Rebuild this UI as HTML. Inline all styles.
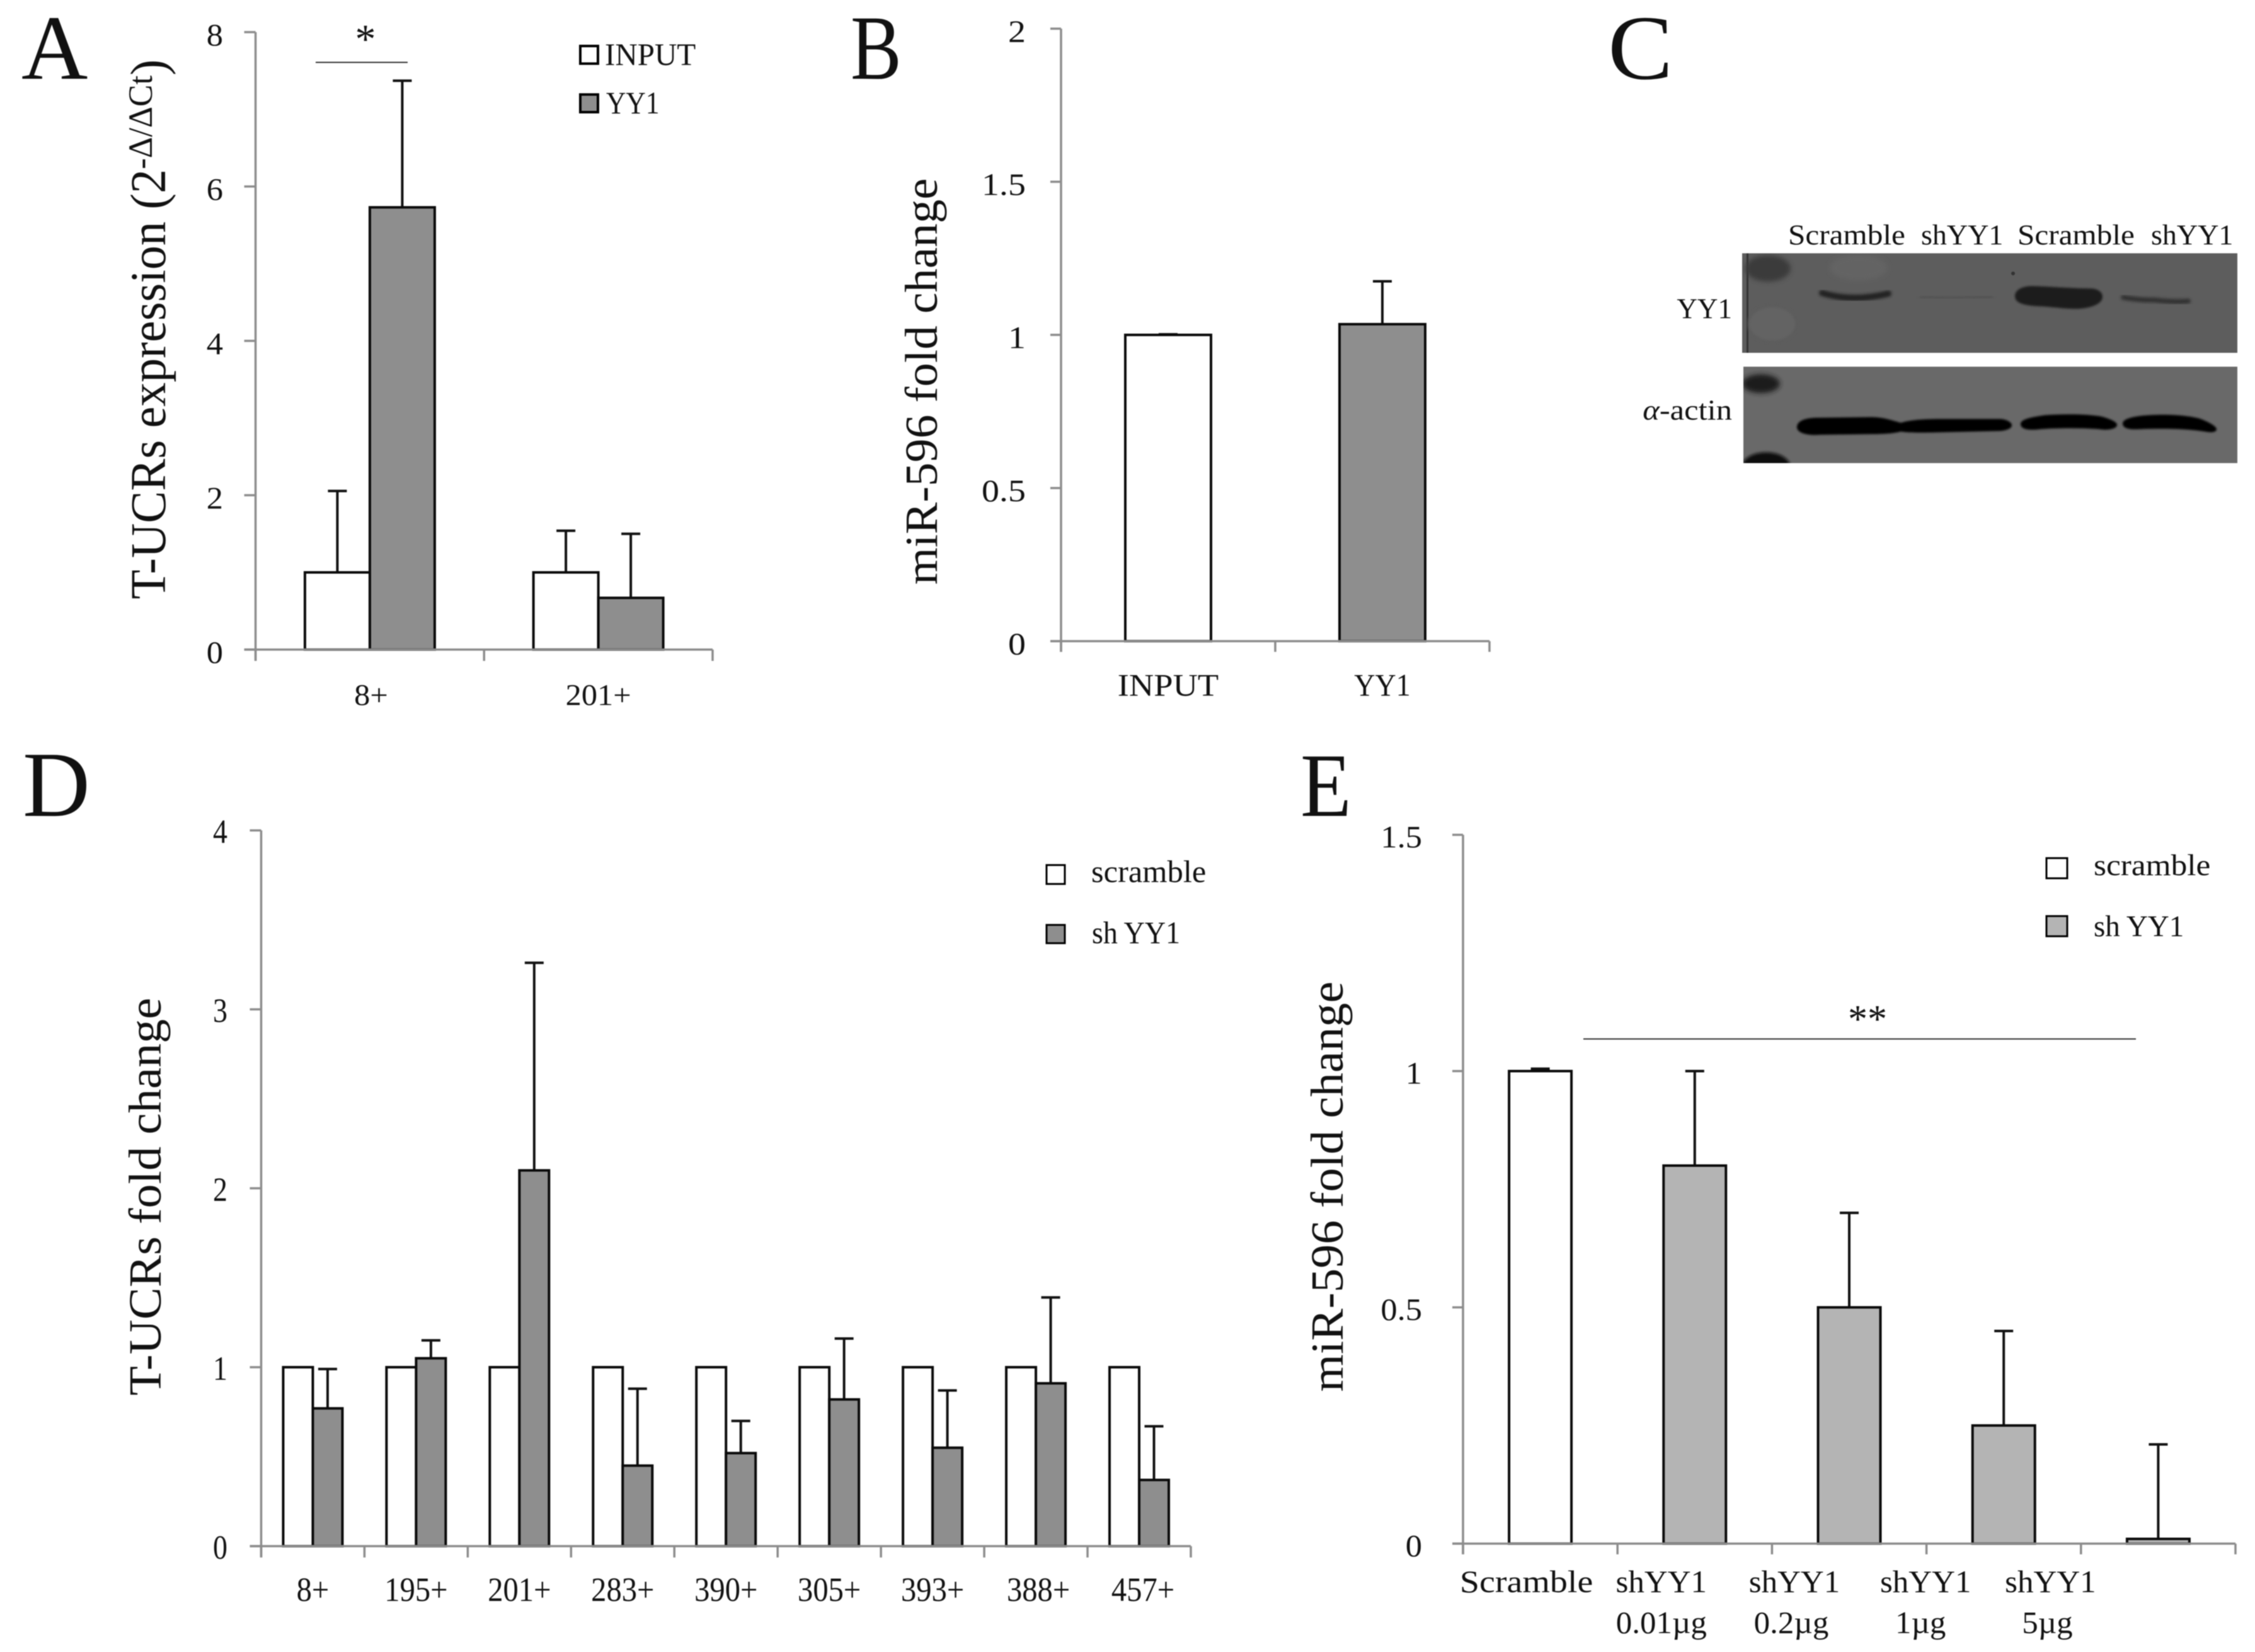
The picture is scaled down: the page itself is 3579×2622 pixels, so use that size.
<!DOCTYPE html>
<html lang="en">
<head>
<meta charset="utf-8">
<title>YY1 T-UCR and miR-596 figure</title>
<style>
html,body{margin:0;padding:0;background:#fff;width:3579px;height:2622px;overflow:hidden}
svg{display:block;filter:blur(.7px)}
text{font-family:"Liberation Serif","DejaVu Serif",serif;fill:#111}
</style>
</head>
<body>
<svg id="fig" xmlns="http://www.w3.org/2000/svg" width="3579" height="2622" viewBox="0 0 3579 2622">
<defs>
<filter id="b1" x="-20%" y="-60%" width="140%" height="220%"><feGaussianBlur stdDeviation="1.5"/></filter>
<filter id="b2" x="-20%" y="-60%" width="140%" height="220%"><feGaussianBlur stdDeviation="2.5"/></filter>
<filter id="b4" x="-30%" y="-60%" width="160%" height="220%"><feGaussianBlur stdDeviation="4"/></filter>
<clipPath id="c1"><rect x="2765" y="402" width="786" height="158"/></clipPath>
<clipPath id="c2"><rect x="2767" y="582" width="784" height="153"/></clipPath>
</defs>
<rect width="3579" height="2622" fill="#fff"/>

<text x="34" y="125" font-size="146">A</text>
<text transform="translate(1350,125) scale(.83,1)" font-size="146">B</text>
<text transform="translate(2552,125) scale(1.06,1)" font-size="146">C</text>
<text x="36" y="1295" font-size="148">D</text>
<text transform="translate(2064,1295) scale(.92,1)" font-size="144">E</text>

<text transform="translate(262,951) rotate(-90) scale(.97,1)" font-size="79">T-UCRs expression (2<tspan font-size="54" dy="-21">-Δ/ΔCt</tspan><tspan dy="21">)</tspan></text>
<text transform="translate(1487,928) rotate(-90) scale(1.04,1)" font-size="73">miR-596 fold change</text>
<text transform="translate(255,2215) rotate(-90) scale(1.05,1)" font-size="73">T-UCRs fold change</text>
<text transform="translate(2131,2209) rotate(-90) scale(1.05,1)" font-size="73">miR-596 fold change</text>

<g>
<rect x="921" y="73" width="28" height="28" fill="#fff" stroke="#000" stroke-width="4"/>
<text transform="translate(960,103) scale(.98,1)" font-size="50">INPUT</text>
<rect x="921" y="150" width="28" height="28" fill="#8e8e8e" stroke="#000" stroke-width="4"/>
<text transform="translate(962,180) scale(.87,1)" font-size="50">YY1</text>
</g>
<g>
<rect x="1661" y="1373" width="29" height="30" fill="#fff" stroke="#000" stroke-width="3"/>
<text transform="translate(1732,1400) scale(1.01,1)" font-size="50">scramble</text>
<rect x="1661" y="1468" width="29" height="29" fill="#8e8e8e" stroke="#000" stroke-width="3"/>
<text transform="translate(1733,1497) scale(.92,1)" font-size="50">sh YY1</text>
</g>
<g>
<rect x="3248" y="1362" width="33" height="32" fill="#fff" stroke="#000" stroke-width="3"/>
<text transform="translate(3323,1389) scale(1.07,1)" font-size="48">scramble</text>
<rect x="3248" y="1454" width="33" height="32" fill="#b4b4b4" stroke="#000" stroke-width="3"/>
<text transform="translate(3323,1486) scale(.98,1)" font-size="48">sh YY1</text>
</g>

<line x1="501" y1="99" x2="647" y2="99" stroke="#333" stroke-width="2"/>
<text x="580" y="84" font-size="66" text-anchor="middle">*</text>
<line x1="2513" y1="1649" x2="3390" y2="1649" stroke="#333" stroke-width="2"/>
<text x="2964" y="1638" font-size="62" text-anchor="middle">**</text>

<g>
<text transform="translate(2838,388) scale(1.07,1)" font-size="46">Scramble</text>
<text x="3049" y="388" font-size="46">shYY1</text>
<text transform="translate(3202,388) scale(1.07,1)" font-size="46">Scramble</text>
<text x="3414" y="388" font-size="46">shYY1</text>
<text transform="translate(2749,505) scale(.98,1)" font-size="46" text-anchor="end">YY1</text>
<text transform="translate(2749,666) scale(1.1,1)" font-size="46" text-anchor="end"><tspan font-style="italic">α</tspan>-actin</text>

<g clip-path="url(#c1)">
<rect x="2765" y="402" width="786" height="158" fill="#5d5d5d"/>
<rect x="2772" y="402" width="3" height="158" fill="#333"/>
<ellipse cx="2806" cy="426" rx="36" ry="21" fill="#3a3a3a" filter="url(#b4)"/>
<ellipse cx="2813" cy="514" rx="38" ry="28" fill="#646464" stroke="#585858" stroke-width="2" filter="url(#b2)"/>
<ellipse cx="2950" cy="425" rx="46" ry="20" fill="#636363" filter="url(#b4)"/>
<path d="M2892 465 Q2940 480 2997 466" fill="none" stroke="#222" stroke-width="10" stroke-linecap="round" filter="url(#b2)"/>
<path d="M3050 472 Q3105 474 3160 471" fill="none" stroke="#555" stroke-width="8" stroke-linecap="round" filter="url(#b2)"/>
<circle cx="3195" cy="434" r="3" fill="#333"/>
<path d="M3198 470 C3198 460 3210 454 3225 454 C3260 455 3290 458 3320 458 C3332 459 3337 465 3337 471 C3337 480 3325 488 3300 490 C3280 491 3260 487 3235 486 C3215 485 3198 482 3198 470Z" fill="#1d1d1d" filter="url(#b1)"/>
<path d="M3370 472 Q3400 477 3418 476 Q3450 480 3473 478" fill="none" stroke="#333" stroke-width="8" stroke-linecap="round" filter="url(#b2)"/>
</g>
<g clip-path="url(#c2)">
<rect x="2767" y="582" width="784" height="153" fill="#696969"/>
<ellipse cx="2795" cy="609" rx="30" ry="15" fill="#1c1c1c" filter="url(#b4)"/>
<ellipse cx="2803" cy="740" rx="38" ry="22" fill="#0a0a0a" filter="url(#b2)"/>
<path d="M2852 678 C2852 668 2865 663 2885 663 L2970 662 C2990 662 3005 668 3017 671 C3030 667 3050 665 3080 665 L3175 665 C3187 666 3193 671 3193 675 C3193 680 3185 683 3175 684 L3085 686 C3050 687 3030 687 3017 685 C3005 688 2990 689 2970 689 L2890 690 C2865 692 2852 686 2852 678Z" fill="#000" filter="url(#b1)"/>
<path d="M3207 673 C3207 665 3225 662 3245 659 C3275 657 3310 657 3335 661 C3350 665 3360 670 3360 674 C3360 680 3350 682 3340 682 C3310 679 3270 679 3240 681 C3225 683 3207 683 3207 673Z" fill="#000" filter="url(#b1)"/>
<path d="M3369 672 C3369 664 3390 660 3410 659 C3440 657 3470 659 3490 664 C3505 669 3518 677 3518 681 C3518 686 3510 687 3500 685 C3470 680 3430 680 3400 681 C3385 682 3369 682 3369 672Z" fill="#000" filter="url(#b1)"/>
</g>
</g>
<g id="charts"></g>
</svg>

<script>
// Panel A
const aCategories = ['8+', '201+'];
const aInput = [1, 1];
const aInputErr = [1.055, 0.54];
const aYY1 = [5.73, 0.67];
const aYY1Err = [1.64, 0.83];
const aTicks = ['0', '2', '4', '6', '8'];
// Panel B
const bCategories = ['INPUT', 'YY1'];
const bValues = [1, 1.035];
const bErr = [0.002, 0.14];
const bTicks = ['0', '0.5', '1', '1.5', '2'];
// Panel D
const dCategories = ['8+', '195+', '201+', '283+', '390+', '305+', '393+', '388+', '457+'];
const dScramble = [1, 1, 1, 1, 1, 1, 1, 1, 1];
const dShYY1 = [0.77, 1.05, 2.1, 0.45, 0.52, 0.82, 0.55, 0.91, 0.37];
const dShYY1Err = [0.22, 0.1, 1.16, 0.43, 0.18, 0.34, 0.32, 0.48, 0.3];
const dTicks = ['0', '1', '2', '3', '4'];
// Panel E
const eCategories = ['Scramble', 'shYY1|0.01µg', 'shYY1|0.2µg', 'shYY1|1µg', 'shYY1|5µg'];
const eValues = [1, 0.8, 0.5, 0.25, 0.01];
const eErr = [0.005, 0.2, 0.2, 0.2, 0.2];
const eTicks = ['0', '0.5', '1', '1.5'];

const NS = 'http://www.w3.org/2000/svg';
const root = document.getElementById('charts');

function make(parent, tag, attrs) {
  const el = document.createElementNS(NS, tag);
  for (const k in attrs) el.setAttribute(k, attrs[k]);
  parent.appendChild(el);
  return el;
}

function drawAxes(g, p) {
  const axis = { stroke: '#8c8c8c', 'stroke-width': 3.5 };
  const yAxis = make(g, 'line', Object.assign({ x1: p.left, x2: p.left, y1: p.top, y2: p.bottom + p.tick }, axis));
  
  
  const xAxis = make(g, 'line', Object.assign({ x1: p.left - p.tick, x2: p.right, y1: p.bottom, y2: p.bottom }, axis));
  
  
  p.ticks.forEach(function (label) {
    const v = parseFloat(label);
    const y = p.y(v);
    const tk = make(g, 'line', Object.assign({ x1: p.left - p.tick, x2: p.left, y1: y, y2: y }, axis));
    
    
    const t = make(g, 'text', { transform: 'translate(' + p.tickRight + ',' + (y + p.tickDy) + ') scale(' + p.tickSx + ',1)', 'font-size': p.tickSize, 'text-anchor': 'end' });
    t.textContent = label;
    
    
  });
  for (let i = 0; i <= p.categories.length; i++) {
    const x = p.left + i * p.catW;
    const tk = make(g, 'line', Object.assign({ x1: x, x2: x, y1: p.bottom, y2: p.bottom + p.tick }, axis));
    
    
  }
  p.categories.forEach(function (cat, i) {
    const rows = cat.split('|');
    rows.forEach(function (row, r) {
      const off = (p.labelOffset ? p.labelOffset[i] : 0) + (r === 1 && p.rowTwoShift ? p.rowTwoShift[i] : 0);
      const sx = p.labelSxs ? p.labelSxs[i] : p.labelSx;
      const t = make(g, 'text', { transform: 'translate(' + (p.x(i) + off) + ',' + (p.labelY + r * p.labelLead) + ') scale(' + sx + ',1)', 'font-size': p.labelSize, 'text-anchor': 'middle' });
      t.textContent = row;
      
      
    });
  });
}

function drawBar(g, p, cx, w, value, err, fill, name) {
  const y0 = p.bottom;
  const yv = p.y(value);
  if (err !== null) {
    const yt = p.y(value + err);
    const stem = make(g, 'line', { x1: cx, x2: cx, y1: yv, y2: yt, stroke: '#111', 'stroke-width': 4 });
    
    
    const cap = make(g, 'line', { x1: cx - 15, x2: cx + 15, y1: yt, y2: yt, stroke: '#111', 'stroke-width': 4 });
    
    
  }
  const bar = make(g, 'rect', { x: cx - w / 2, y: yv, width: w, height: y0 - yv, fill: fill, stroke: '#0a0a0a', 'stroke-width': 4 });
  
  
}

function panel(name, cfg) {
  const g = make(root, 'g', {});
  
  
  cfg.catW = (cfg.right - cfg.left) / cfg.categories.length;
  cfg.x = function (i) { return cfg.left + (i + 0.5) * cfg.catW; };
  cfg.y = function (v) { return cfg.bottom - (v / cfg.yMax) * (cfg.bottom - cfg.top); };
  return g;
}

// Panel A chart
const pA = { left: 405.6, right: 1131, top: 51, bottom: 1031, yMax: 8, tick: 18, categories: aCategories, ticks: aTicks, tickRight: 354, tickDy: 21, tickSx: 1.05, tickSize: 50, labelY: 1119, labelLead: 0, labelSx: 1.05, labelSize: 48, labelOffset: [2, 0] };
const gA = panel('chart-a', pA);
aCategories.forEach(function (c, i) {
  drawBar(gA, pA, pA.x(i) - 51.5, 103, aInput[i], aInputErr[i], '#fff', 'bar-input-' + c);
  drawBar(gA, pA, pA.x(i) + 51.5, 103, aYY1[i], aYY1Err[i], '#8e8e8e', 'bar-yy1-' + c);
});
drawAxes(gA, pA);

// Panel B chart
const pB = { left: 1684, right: 2364, top: 45.5, bottom: 1017.6, yMax: 2, tick: 17, categories: bCategories, ticks: bTicks, tickRight: 1628, tickDy: 21, tickSx: 1.12, tickSize: 50, labelY: 1104, labelLead: 0, labelSxs: [1.09, 0.92], labelSize: 50 };
const gB = panel('chart-b', pB);
bCategories.forEach(function (c, i) {
  drawBar(gB, pB, pB.x(i), 136, bValues[i], bErr[i], i === 0 ? '#fff' : '#8e8e8e', 'bar-' + c);
});
drawAxes(gB, pB);

// Panel D chart
const pD = { left: 414.5, right: 1890, top: 1318, bottom: 2454, yMax: 4, tick: 18, categories: dCategories, ticks: dTicks, tickRight: 361, tickDy: 20, tickSx: 0.85, tickSize: 54, labelY: 2541, labelLead: 0, labelSx: 0.9, labelSize: 54, labelOffset: [0, 0, 0, 0, 0, 0, 0, 4, 6] };
const gD = panel('chart-d', pD);
dCategories.forEach(function (c, i) {
  drawBar(gD, pD, pD.x(i) - 23.5, 47, dScramble[i], null, '#fff', 'bar-scramble-' + c);
  drawBar(gD, pD, pD.x(i) + 23.5, 47, dShYY1[i], dShYY1Err[i], '#8e8e8e', 'bar-sh-yy1-' + c);
});
drawAxes(gD, pD);

// Panel E chart
const pE = { left: 2322, right: 3548, top: 1325, bottom: 2450, yMax: 1.5, tick: 17, categories: eCategories, ticks: eTicks, tickRight: 2257, tickDy: 20, tickSx: 1.05, tickSize: 50, labelY: 2527, labelLead: 65, labelSxs: [1.12, 1.02, 1.02, 1.02, 1.02], labelSize: 50, labelOffset: [-22, -53, -87, -124, -171], rowTwoShift: [0, 0, -5, -8, -5] };
const gE = panel('chart-e', pE);
eCategories.forEach(function (c, i) {
  drawBar(gE, pE, pE.x(i), 99, eValues[i], eErr[i], i === 0 ? '#fff' : '#b4b4b4', 'bar-' + c.replace('|', '-'));
});
drawAxes(gE, pE);
</script>
</body>
</html>
